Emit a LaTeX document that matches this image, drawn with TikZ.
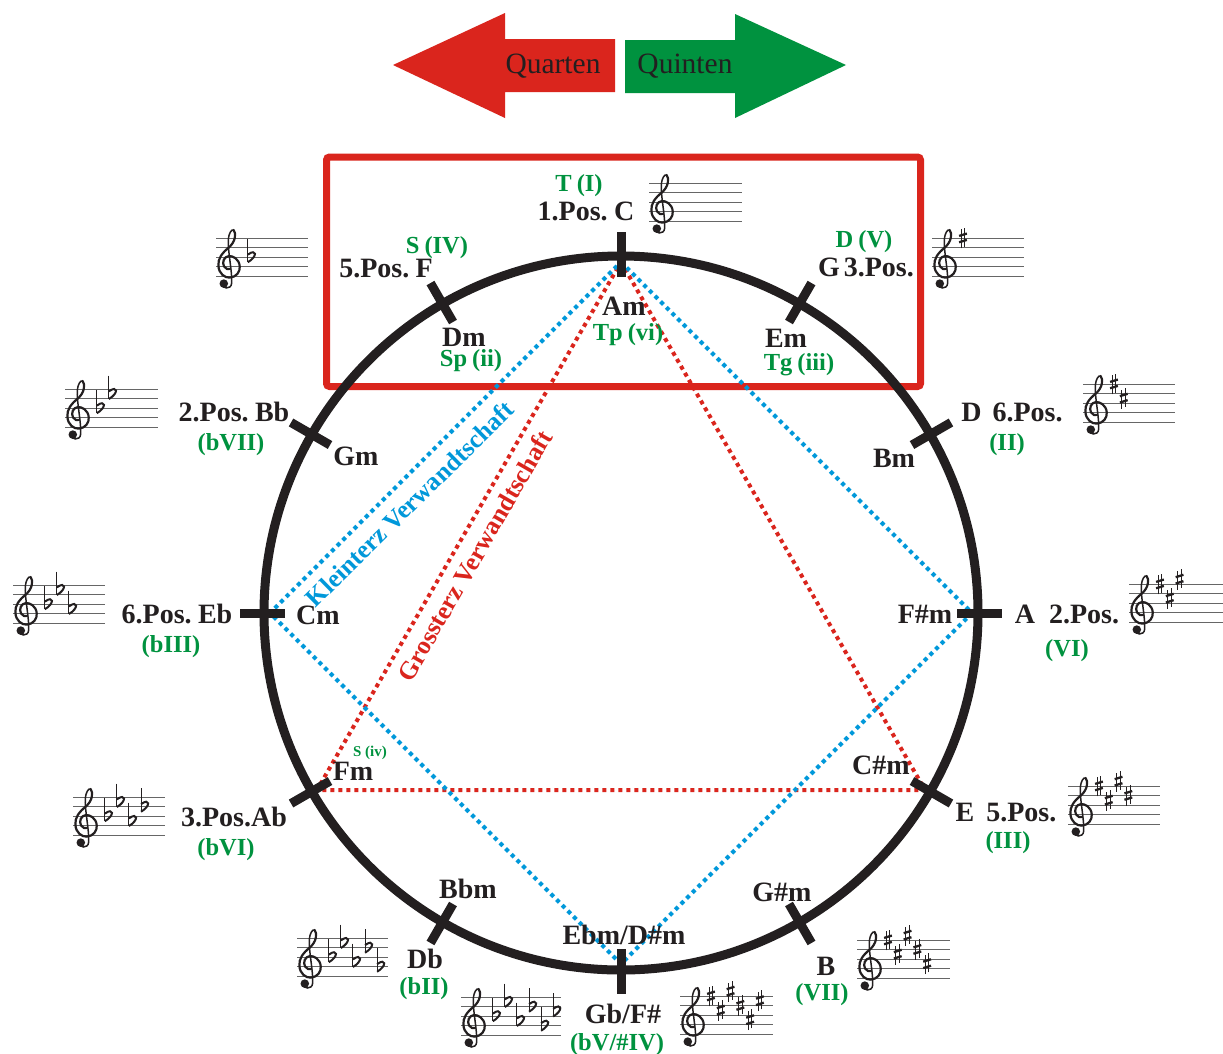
\documentclass[tikz,border=0pt]{standalone}
\usepackage{fontspec}
\setmainfont{Liberation Serif}
\definecolor{ink}{HTML}{231F20}
\definecolor{redA}{HTML}{DA251D}
\definecolor{greenA}{HTML}{00923F}
\definecolor{blueA}{HTML}{0098DA}
\tikzset{
  lbl/.style={font={\bfseries\fontsize{28}{28}\selectfont\spaceskip=4pt\relax}, text=ink, inner sep=0pt, text height=18.5pt, text depth=0pt},
  fn/.style={font={\bfseries\fontsize{24.5}{24.5}\selectfont\spaceskip=5pt\relax}, text=greenA, inner sep=0pt, text height=16.2pt, text depth=0pt},
  fnsmall/.style={font=\bfseries\fontsize{15}{15}\selectfont, text=greenA, inner sep=0pt, text height=9.9pt, text depth=0pt},
  arrtxt/.style={font=\fontsize{29.5}{29.5}\selectfont, text=ink, inner sep=0pt, text height=19.5pt, text depth=0pt},
  reltxt/.style={font=\bfseries\fontsize{25.5}{25.5}\selectfont, inner sep=0pt, text height=16.8pt, text depth=0pt},
  dotline/.style={line width=4pt, dash pattern=on 4pt off 4pt},
  tickmark/.style={ink, line width=9pt},
  staffline/.style={black!60, line width=0.9pt},
  clefline/.style={ink, line width=2.2pt, line cap=round},
  clefthin/.style={ink, line width=1.5pt, line cap=round},
  accthin/.style={ink, line width=1pt},
  accthick/.style={ink, line width=2.3pt},
  accbowl/.style={ink, line width=2pt},
}
\newcommand\drawclef{%
  \draw[clefthin] (0.62,-0.78) .. controls (0.55,-1.35) and (1.6,-1.5) .. (1.65,-0.75)
    .. controls (1.72,0.5) and (1.2,2.8) .. (1.3,3.9)
    .. controls (1.35,4.5) and (1.65,4.95) .. (1.85,4.85);
  \draw[clefline] (1.85,4.85)
    .. controls (2.2,4.45) and (2.0,3.55) .. (1.35,3.0)
    .. controls (0.6,2.4) and (0.2,1.8) .. (0.25,1.1)
    .. controls (0.3,0.2) and (0.95,-0.2) .. (1.45,-0.17)
    .. controls (2.15,-0.12) and (2.55,0.45) .. (2.5,1.0)
    .. controls (2.45,1.8) and (1.75,2.15) .. (1.35,2.1)
    .. controls (0.85,2.05) and (0.6,1.45) .. (0.85,1.0)
    .. controls (1.0,0.75) and (1.3,0.65) .. (1.5,0.75);
  \fill[ink] (0.82,-0.8) circle[radius=0.45];
}
\newcommand\sharpat[2]{%
  \draw[accthin] ({#1+0.22},{#2-1.1}) -- ({#1+0.22},{#2+0.9});
  \draw[accthin] ({#1+0.6},{#2-0.9}) -- ({#1+0.6},{#2+1.1});
  \draw[accthick] ({#1},{#2-0.45}) -- ({#1+0.82},{#2-0.2});
  \draw[accthick] ({#1},{#2+0.22}) -- ({#1+0.82},{#2+0.47});
}
\newcommand\flatat[2]{%
  \draw[accthin] ({#1},{#2+1.9}) -- ({#1},{#2-0.55});
  \draw[accbowl] ({#1},{#2-0.55}) .. controls ({#1+1.05},{#2+0.05}) and ({#1+0.95},{#2+0.95}) .. ({#1},{#2+0.25});
}
\newcommand\keystaff[5]{%
  \begin{scope}[shift={(#1,#2+38)},x=9.5pt,y=9.5pt]
    \foreach \i in {0,...,4} \draw[staffline] (0,\i) -- (#5,\i);
    \drawclef
    \ifx s#3
      \foreach \p [count=\k] in {4,2.5,4.5,3,1.5,3.5} {%
        \pgfmathsetmacro\ax{2.85+(\k-1)*1.03}%
        \ifnum\k>#4\relax\else\sharpat{\ax}{\p}\fi}
    \fi
    \ifx f#3
      \foreach \p [count=\k] in {2,3.5,1.5,3,1,2.5} {%
        \pgfmathsetmacro\ax{3.35+(\k-1)*1.27}%
        \ifnum\k>#4\relax\else\flatat{\ax}{\p}\fi}
    \fi
  \end{scope}}
\begin{document}
\begin{tikzpicture}[x=1pt,y=-1pt]
\useasboundingbox (0,0) rectangle (1223,1053);
\fill[white] (0,0) rectangle (1223,1053);

% arrows
\fill[redA] (393,65) -- (505,13) -- (505,39) -- (615,39) -- (615,92) -- (505,92) -- (505,118) -- cycle;
\fill[greenA] (846,65) -- (735,14) -- (735,40) -- (625,40) -- (625,93) -- (735,93) -- (735,118) -- cycle;
\node[arrtxt] (quarten) at (553,64) {Quarten};
\node[arrtxt] (quinten) at (685,64) {Quinten};

% frame
\draw[redA, line width=7pt, rounded corners=3pt] (326.5,157) rectangle (920.5,386.5);

% relation lines
\coordinate (qT) at (621,262);
\coordinate (qR) at (972,613);
\coordinate (qB) at (621,964);
\coordinate (qL) at (270,613);
\coordinate (tE) at (925,790);
\coordinate (tA) at (317,790);
\draw[dotline, redA] (qT) -- (tE) -- (tA) -- cycle;
\draw[dotline, blueA] (qT) -- (qR) -- (qB) -- (qL) -- cycle;

% circle and ticks
\draw[ink, line width=9pt] (621,613) circle[radius=357pt];
\foreach \a in {0,30,...,330}
  \draw[tickmark] ({621+336*cos(\a)},{613-336*sin(\a)}) -- ({621+381*cos(\a)},{613-381*sin(\a)});

% relation captions
\node[reltxt, text=blueA, rotate=44.5] (klein) at (410,504) {Kleinterz Verwandtschaft};
\node[reltxt, text=redA, rotate=60] (gross) at (475,556) {Grossterz Verwandtschaft};

% labels
\node[fn] (tI) at (579,183) {T (I)};
\node[lbl] (pC) at (586,211) {1.Pos. C};
\node[fn] (sIV) at (437,245) {S (IV)};
\node[lbl] (pF) at (386,268) {5.Pos. F};
\node[lbl] (dm) at (464,337) {Dm};
\node[fn] (spii) at (471,358) {Sp (ii)};
\node[lbl] (am) at (624,306) {Am};
\node[fn] (tpvi) at (628,332) {Tp (vi)};
\node[fn] (dV) at (864,239) {D (V)};
\node[lbl] (pG) at (866,267) {G 3.Pos.};
\node[lbl] (em) at (786,338) {Em};
\node[fn] (tgiii) at (799,362) {Tg (iii)};

\node[lbl] (pBb) at (234,412) {2.Pos. Bb};
\node[fn] (bVII) at (231,442) {(bVII)};
\node[lbl] (gm) at (356,456) {Gm};
\node[lbl] (pD) at (1012,412) {D\hspace{11pt}6.Pos.};
\node[fn] (II) at (1007,442) {(II)};
\node[lbl] (bm) at (894,458) {Bm};

\node[lbl] (pEb) at (177,614) {6.Pos. Eb};
\node[fn] (bIII) at (171,644) {(bIII)};
\node[lbl] (cm) at (318,615) {Cm};
\node[lbl] (fism) at (925,614) {F\#m};
\node[lbl] (pA) at (1067,614) {A\hspace{14pt}2.Pos.};
\node[fn] (VI) at (1067,648) {(VI)};

\node[fnsmall] (siv) at (370,752) {S (iv)};
\node[lbl] (fm) at (353,771) {Fm};
\node[lbl] (pAb) at (234,817) {3.Pos.Ab};
\node[fn] (bVI) at (226,847) {(bVI)};
\node[lbl] (cism) at (881,765) {C\#m};
\node[lbl] (pE) at (1006,812) {E\hspace{12pt}5.Pos.};
\node[fn] (III) at (1008,840) {(III)};

\node[lbl] (bbm) at (468,889) {Bbm};
\node[lbl] (db) at (425,959) {Db};
\node[fn] (bII) at (424,986) {(bII)};
\node[lbl] (ebm) at (624,935) {Ebm/D\#m};
\node[lbl] (gb) at (623,1014) {Gb/F\#};
\node[fn] (bV) at (617,1042) {(bV/\#IV)};
\node[lbl] (gism) at (782,892) {G\#m};
\node[lbl] (b) at (826,966) {B};
\node[fn] (VII) at (822,992) {(VII)};

% key signatures
\keystaff{649}{183}{n}{0}{9.8}
\keystaff{932}{238}{s}{1}{9.7}
\keystaff{216}{238}{f}{1}{9.7}
\keystaff{65}{389}{f}{2}{9.8}
\keystaff{1083}{384}{s}{2}{9.7}
\keystaff{13}{585}{f}{3}{9.7}
\keystaff{1129}{584}{s}{3}{9.9}
\keystaff{73}{797}{f}{4}{9.7}
\keystaff{1068}{786}{s}{4}{9.7}
\keystaff{297}{938}{f}{5}{9.6}
\keystaff{857}{940}{s}{5}{9.8}
\keystaff{680}{996}{s}{6}{9.8}
\keystaff{461}{997}{f}{6}{10.5}
\end{tikzpicture}
\end{document}
